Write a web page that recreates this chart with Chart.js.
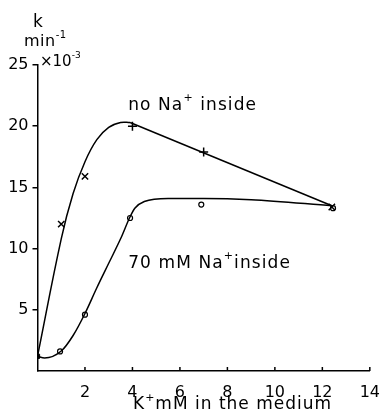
<!DOCTYPE html>
<html>
<head>
<meta charset="utf-8">
<script src="https://cdn.jsdelivr.net/npm/chart.js@4/dist/chart.umd.min.js"></script>
<style>
  html, body { margin: 0; background: #fff; }
  #wrap { width: 384px; height: 415px; }
</style>
</head>
<body>
<div id="wrap"><canvas id="chart"></canvas></div>
<script>
// measured points (K+ mM, k x10^-3 min^-1)
const startX = [0];
const startY = [1.2];
const noNaX = [1, 2, 4, 7, 12.4];
const noNaY = [12, 15.9, 20, 17.9, 13.4];
const noNaMarks = ['crossRot', 'crossRot', 'cross', 'cross', 'crossRot'];
const naX = [0.95, 2, 3.9, 6.9, 12.45];
const naY = [1.6, 4.6, 12.5, 13.6, 13.3];

// fitted curves
const riseCurveX = [0, 1, 1.5, 2, 2.5, 3, 3.5, 3.9];
const riseCurveY = [1.2, 10.8, 14.5, 17.1, 18.9, 19.9, 20.3, 20.3];
const fallLineX = [3.9, 12.4];
const fallLineY = [20.3, 13.5];
const naCurveX = [0, 0.3, 1, 1.5, 2, 2.5, 3, 3.5, 3.9, 4.1, 4.5, 5.5, 7, 9, 12.4];
const naCurveY = [1.2, 1.06, 1.63, 2.9, 4.7, 6.8, 8.8, 10.8, 12.6, 13.3, 13.85, 14.1, 14.1, 14, 13.5];

const xTicks = [2, 4, 6, 8, 10, 12, 14];
const yTicks = [5, 10, 15, 20, 25];

const FONT = 'DejaVu Sans';
const zip = (xs, ys) => xs.map((x, i) => ({ x: x, y: ys[i] }));

// draws text with raised superscript parts: [[text, isSup], ...]
function richText(ctx, parts, x, y, size, spacing) {
    let cx = x;
    parts.forEach(([txt, sup]) => {
        const s = sup ? Math.round(size * 0.62) : size;
        ctx.font = s + 'px "' + FONT + '"';
        ctx.letterSpacing = spacing + 'px';
        ctx.fillText(txt, cx, sup ? y - size * 0.42 : y);
        cx += ctx.measureText(txt).width;
    });
}

const textPlugin = {
    id: 'figText',
    afterDraw(chart) {
        const ctx = chart.ctx;
        const xs = chart.scales.x, ys = chart.scales.y;
        ctx.save();
        ctx.fillStyle = '#000';
        ctx.strokeStyle = '#000';
        ctx.lineWidth = 1.5;
        // x ticks pointing into the plot
        xTicks.forEach(v => {
            const px = xs.getPixelForValue(v);
            ctx.beginPath();
            ctx.moveTo(px, ys.bottom);
            ctx.lineTo(px, ys.bottom - 4);
            ctx.stroke();
        });
        ctx.textBaseline = 'middle';
        ctx.textAlign = 'left';
        richText(ctx, [['k', false]], 33, 23, 17, 0);
        richText(ctx, [['min', false], ['-1', true]], 24, 42, 16, 0.5);
        richText(ctx, [['\u00D710', false], ['-3', true]], 40, 62, 15, 0);
        richText(ctx, [['no Na', false], ['+', true], [' inside', false]],
            xs.getPixelForValue(3.82), ys.getPixelForValue(21.7), 17, 1.1);
        richText(ctx, [['70 mM Na', false], ['+', true], ['inside', false]],
            xs.getPixelForValue(3.82), ys.getPixelForValue(8.8), 17, 1.1);
        richText(ctx, [['K', false], ['+', true], ['mM in the medium', false]], 133, 405, 17, 1);
        ctx.restore();
    }
};

const lineStyle = { showLine: true, borderColor: '#000', borderWidth: 1.5, pointRadius: 0 };

new Chart(document.getElementById('chart'), {
    type: 'scatter',
    data: {
        datasets: [
            Object.assign({ data: zip(riseCurveX, riseCurveY), tension: 0.4 }, lineStyle),
            Object.assign({ data: zip(fallLineX, fallLineY) }, lineStyle),
            Object.assign({ data: zip(naCurveX, naCurveY), cubicInterpolationMode: 'monotone' }, lineStyle),
            {
                data: zip(noNaX, noNaY),
                pointStyle: noNaMarks, pointRadius: 4.5,
                borderColor: '#000', borderWidth: 1.5, backgroundColor: '#000'
            },
            {
                data: zip(naX, naY),
                pointStyle: 'circle', pointRadius: 2.5,
                borderColor: '#000', borderWidth: 1.2, backgroundColor: '#fff'
            },
            {
                data: zip(startX, startY),
                pointStyle: 'rect', pointRadius: 3,
                borderColor: '#000', backgroundColor: '#000'
            }
        ]
    },
    options: {
        responsive: true,
        maintainAspectRatio: false,
        animation: false,
        layout: { padding: { top: 65, right: 8, left: 0, bottom: 0 } },
        plugins: { legend: { display: false }, tooltip: { enabled: false } },
        scales: {
            x: {
                type: 'linear', min: 0, max: 14,
                afterFit: s => { s.height = 44; },
                afterBuildTicks: s => { s.ticks = xTicks.map(v => ({ value: v })); },
                grid: { display: false },
                border: { display: true, color: '#000', width: 1.5 },
                ticks: { color: '#000', padding: 4, font: { family: FONT, size: 16 }, maxRotation: 0 }
            },
            y: {
                type: 'linear', min: 0, max: 25,
                afterFit: s => { s.width = 37.5; },
                afterBuildTicks: s => { s.ticks = yTicks.map(v => ({ value: v })); },
                grid: { drawOnChartArea: false, tickLength: 5, color: '#000', lineWidth: 1.5 },
                border: { display: true, color: '#000', width: 1.5 },
                ticks: { color: '#000', padding: 4, font: { family: FONT, size: 16 } }
            }
        }
    },
    plugins: [textPlugin]
});
</script>
</body>
</html>
